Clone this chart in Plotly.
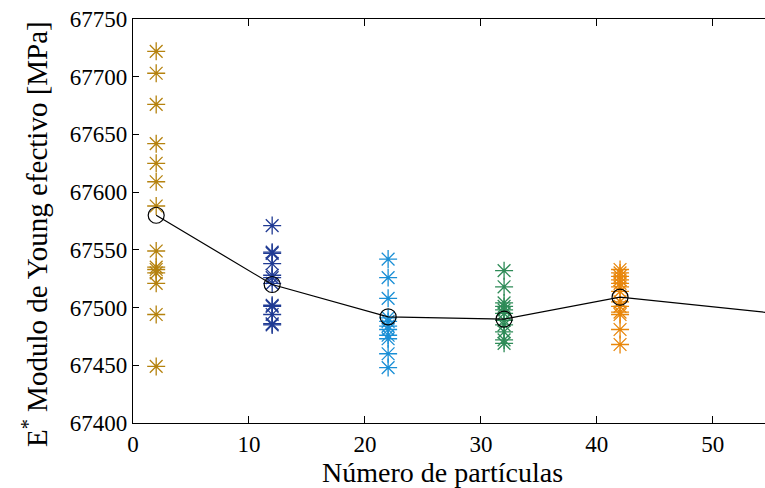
import plotly.graph_objects as go

# Data
x_groups = [2, 12, 22, 32, 42]
vals_2 = [67722, 67703, 67676, 67642, 67625, 67609, 67588, 67549, 67535, 67533, 67530, 67521, 67494, 67449]
vals_12 = [67571, 67548, 67547, 67538, 67528, 67526, 67521, 67502, 67501, 67494, 67486, 67485]
vals_22 = [67542, 67526, 67508, 67491, 67488, 67484, 67481, 67476, 67473, 67460, 67448]
vals_32 = [67532, 67518, 67504, 67501, 67498, 67495, 67489, 67485, 67479, 67472, 67469]
vals_42 = [67533, 67530, 67527, 67524, 67521, 67518, 67514, 67505, 67501, 67496, 67494, 67481, 67468]
group_vals = [vals_2, vals_12, vals_22, vals_32, vals_42]
group_colors = ["#B5820E", "#1F3A93", "#1A8FD6", "#2E8B57", "#E8860A"]

mean_x = [2, 12, 22, 32, 42, 62]
mean_y = [67580, 67520, 67492, 67490, 67509, 67488]

x_ticks = [0, 10, 20, 30, 40, 50]
y_ticks = [67400, 67450, 67500, 67550, 67600, 67650, 67700, 67750]
y_tick_labels = [str(v) for v in y_ticks]

x_title = "Número de partículas"
y_title = "E<sup>*</sup> Modulo de Young efectivo [MPa]"

font_family = "Liberation Serif"

fig = go.Figure()
for xg, vals, col in zip(x_groups, group_vals, group_colors):
    fig.add_trace(go.Scatter(
        x=[xg] * len(vals), y=vals, mode="markers",
        marker=dict(symbol="asterisk-open", size=15, color=col,
                    line=dict(color=col, width=1.3)),
        showlegend=False, hoverinfo="skip"))

fig.add_trace(go.Scatter(
    x=mean_x, y=mean_y, mode="lines+markers",
    line=dict(color="black", width=1.2),
    marker=dict(symbol="circle-open", size=16, color="black",
                line=dict(color="black", width=1.2)),
    showlegend=False))

fig.update_layout(
    width=765, height=488,
    margin=dict(l=133, r=0, t=19, b=65),
    paper_bgcolor="white", plot_bgcolor="white",
    font=dict(family=font_family, size=23, color="black"),
    xaxis=dict(range=[0, 54.5], tickvals=x_ticks, ticks="inside", ticklen=7,
               tickcolor="black", showline=True, linecolor="black", linewidth=1.2,
               mirror="ticks", showgrid=False, zeroline=False, automargin=False,
               tickfont=dict(size=23)),
    yaxis=dict(range=[67400, 67750], tickvals=y_ticks, ticktext=y_tick_labels,
               ticks="inside", ticklen=6,
               tickcolor="black", showline=True, linecolor="black", linewidth=1.2,
               mirror=False, showgrid=False, zeroline=False, automargin=False,
               tickfont=dict(size=23)),
    annotations=[
        dict(text=x_title, xref="paper", yref="paper", x=0.49, y=0,
             xanchor="center", yanchor="middle", yshift=-49,
             showarrow=False, font=dict(size=28)),
        dict(text=y_title, xref="paper", yref="paper", x=0, y=0.5,
             xanchor="center", yanchor="middle", xshift=-98, yshift=-13,
             textangle=-90, showarrow=False, font=dict(size=29)),
    ],
)

fig.write_html("out.html", config={"displayModeBar": False},
               post_script="document.body.style.margin='0';")
